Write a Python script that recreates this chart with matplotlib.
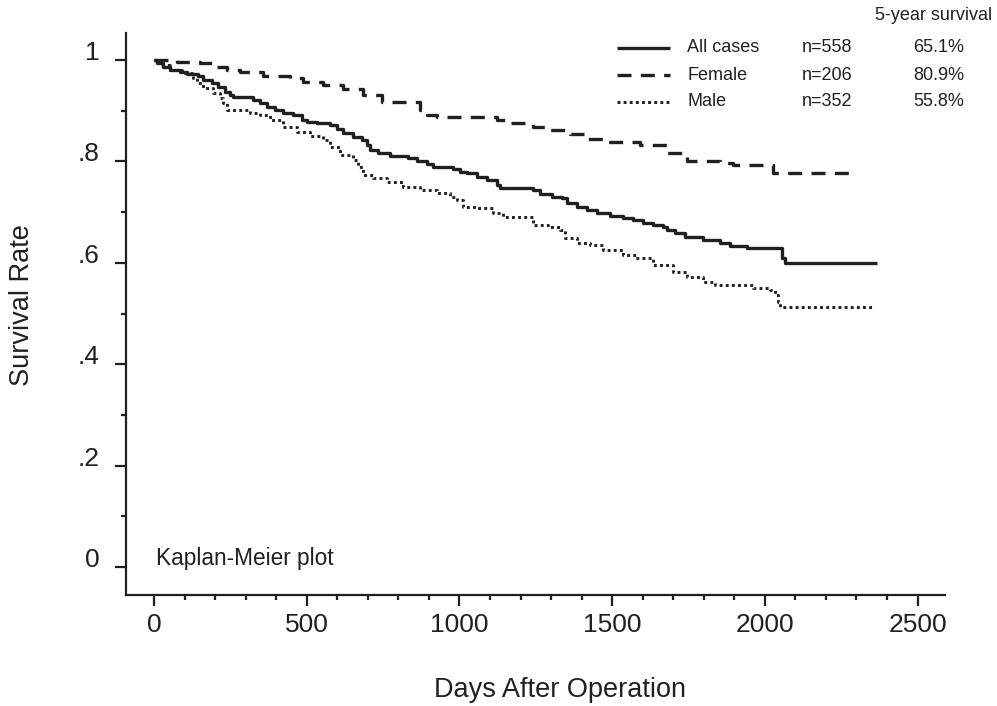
"""
Kaplan-Meier survival after operation: all cases, female, male.
Step curves read off the published figure.
"""

import matplotlib

matplotlib.use("Agg")
import matplotlib.pyplot as plt
from matplotlib.lines import Line2D
from matplotlib.ticker import MultipleLocator

plt.rcParams["font.family"] = ["Liberation Sans", "DejaVu Sans"]

INK = "#231f20"

# --- data (days, survival after the step) ---
all_days = [0, 10, 29, 52, 85, 108, 144, 160, 190, 210, 232, 249, 259, 324,
            347, 370, 396, 422, 455, 485, 501, 534, 576, 599, 619, 652, 681,
            697, 707, 733, 773, 832, 861, 894, 914, 979, 1002, 1025, 1058,
            1090, 1123, 1133, 1241, 1264, 1303, 1336, 1352, 1385, 1418, 1451,
            1493, 1536, 1568, 1601, 1634, 1667, 1680, 1706, 1739, 1798, 1853,
            1886, 1942, 2056, 2066, 2367]
all_surv = [1.0, 0.994, 0.986, 0.980, 0.976, 0.972, 0.968, 0.961, 0.955,
            0.947, 0.937, 0.931, 0.927, 0.921, 0.915, 0.907, 0.901, 0.895,
            0.892, 0.882, 0.878, 0.876, 0.872, 0.864, 0.856, 0.848, 0.842,
            0.832, 0.822, 0.817, 0.811, 0.807, 0.801, 0.795, 0.789, 0.785,
            0.779, 0.777, 0.769, 0.763, 0.753, 0.747, 0.744, 0.736, 0.730,
            0.728, 0.718, 0.710, 0.704, 0.698, 0.692, 0.688, 0.684, 0.679,
            0.675, 0.671, 0.665, 0.659, 0.651, 0.645, 0.639, 0.633, 0.629,
            0.609, 0.600, 0.600]

fem_days = [0, 75, 151, 206, 239, 282, 357, 445, 488, 553, 619, 684, 747,
            871, 894, 927, 1123, 1166, 1241, 1290, 1362, 1418, 1483, 1591,
            1680, 1745, 1853, 1896, 2027, 2279]
fem_surv = [1.0, 0.996, 0.994, 0.986, 0.980, 0.976, 0.968, 0.964, 0.957,
            0.951, 0.943, 0.931, 0.917, 0.901, 0.892, 0.888, 0.882, 0.876,
            0.868, 0.862, 0.854, 0.844, 0.838, 0.832, 0.816, 0.801, 0.797,
            0.793, 0.777, 0.777]

male_days = [0, 20, 52, 92, 128, 141, 160, 193, 216, 226, 239, 314, 347, 380,
             422, 468, 511, 553, 576, 609, 652, 668, 684, 717, 763, 815, 871,
             927, 969, 992, 1012, 1058, 1110, 1143, 1241, 1290, 1329, 1346,
             1385, 1428, 1470, 1536, 1582, 1634, 1699, 1745, 1798, 1837, 1961,
             2017, 2033, 2043, 2050, 2351]
male_surv = [1.0, 0.990, 0.980, 0.974, 0.964, 0.955, 0.945, 0.935, 0.925,
             0.915, 0.901, 0.895, 0.892, 0.882, 0.868, 0.858, 0.850, 0.842,
             0.828, 0.813, 0.803, 0.789, 0.773, 0.767, 0.759, 0.750, 0.744,
             0.738, 0.730, 0.724, 0.710, 0.708, 0.698, 0.690, 0.675, 0.671,
             0.665, 0.649, 0.639, 0.635, 0.625, 0.615, 0.609, 0.596, 0.582,
             0.572, 0.562, 0.556, 0.550, 0.546, 0.536, 0.523, 0.513, 0.513]

groups = ["All cases", "Female", "Male"]
group_n = ["n=558", "n=206", "n=352"]
five_year = ["65.1%", "80.9%", "55.8%"]

styles = [
    dict(linestyle="-", linewidth=2.4),
    dict(linestyle=(0, (4.2, 2.8)), linewidth=2.4),
    dict(linestyle=(0, (1.0, 1.1)), linewidth=2.1),
]

fig = plt.figure(figsize=(9.97, 7.06), dpi=100)
ax = fig.add_axes([0.1264, 0.1572, 0.8215, 0.796])

for days, surv, st in zip((all_days, fem_days, male_days),
                          (all_surv, fem_surv, male_surv), styles):
    ax.plot(days, surv, drawstyle="steps-post", color=INK,
            solid_capstyle="butt", dash_capstyle="butt", **st)

ax.set_xlim(-92, 2590)
ax.set_ylim(-0.055, 1.053)

for side in ("top", "right"):
    ax.spines[side].set_visible(False)
for side in ("left", "bottom"):
    ax.spines[side].set_linewidth(1.6)
    ax.spines[side].set_color(INK)

ax.set_xticks([0, 500, 1000, 1500, 2000, 2500])
ax.set_xticks([v for v in range(100, 2500, 100) if v % 500], minor=True)
ax.set_yticks([0, 0.2, 0.4, 0.6, 0.8, 1.0])
ax.set_yticklabels(["0", ".2", ".4", ".6", ".8", "1"])
ax.yaxis.set_minor_locator(MultipleLocator(0.1))

ax.tick_params(which="major", length=8, width=1.6, color=INK,
               labelsize=19, labelcolor=INK)
ax.tick_params(which="minor", length=3.5, width=1.6, color=INK)
ax.tick_params(axis="y", which="major", pad=11)
ax.tick_params(axis="x", which="major", pad=5)
for lab in ax.get_yticklabels():
    lab.set_va("baseline")

fig.text(22 / 997, 1 - 305 / 706, "Survival Rate", rotation=90, fontsize=19.5,
         color=INK, ha="center", va="center")
fig.text(560 / 997, 1 - 690 / 706, "Days After Operation", fontsize=19.5,
         color=INK, ha="center", va="center")
fig.text(156 / 997, 1 - 558 / 706, "Kaplan-Meier plot", fontsize=16.3,
         color=INK, ha="left", va="center")

# legend block, drawn by hand in figure pixels
fig.text(875 / 997, 1 - 15 / 706, "5-year survival", fontsize=13,
         color=INK, ha="left", va="center")
for i, (name, n, pct, st) in enumerate(zip(groups, group_n, five_year, styles)):
    yy = 1 - (48 + 27 * i) / 706
    fig.add_artist(Line2D([617 / 997, 670 / 997], [yy, yy], color=INK,
                          transform=fig.transFigure, solid_capstyle="butt",
                          dash_capstyle="butt", **st))
    fig.text(687 / 997, yy, name, fontsize=13, color=INK, va="center")
    fig.text(802 / 997, yy, n, fontsize=13, color=INK, va="center")
    fig.text(913 / 997, yy, pct, fontsize=13, color=INK, va="center")

fig.savefig("out.png", dpi=100, facecolor="white")
